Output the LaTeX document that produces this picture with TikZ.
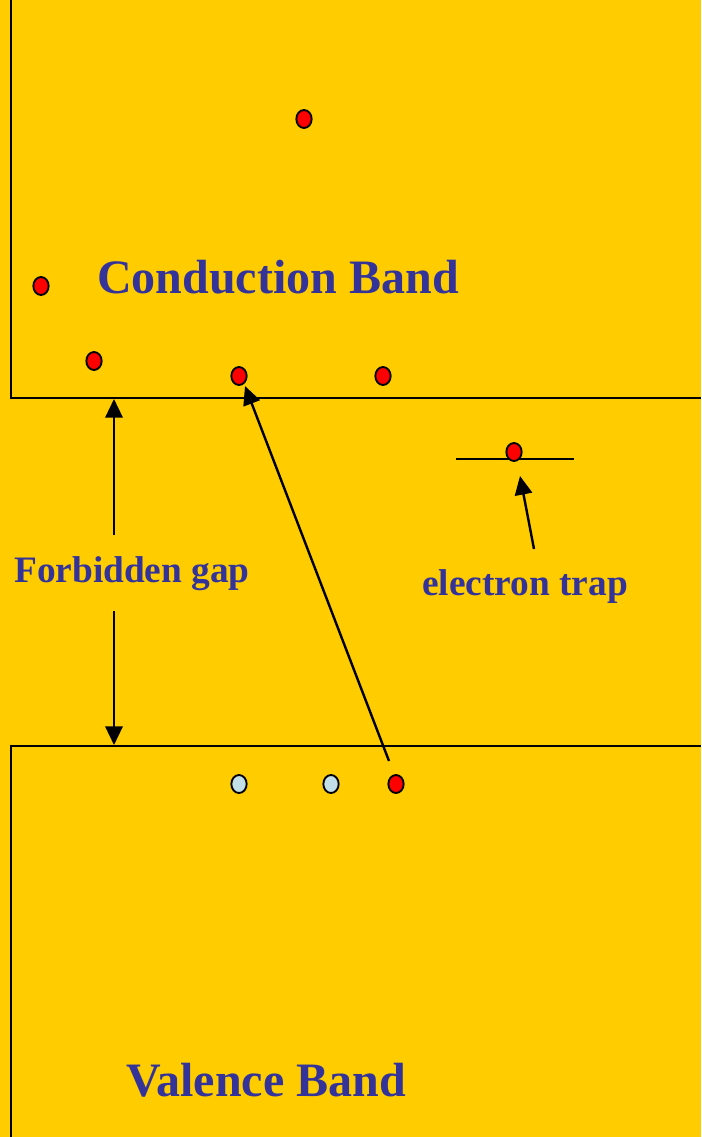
\documentclass[tikz,border=0pt]{standalone}
\usepackage{fontspec}
\setmainfont{Liberation Serif}
\usetikzlibrary{arrows.meta,shapes.geometric}
\definecolor{bgyellow}{HTML}{FFCC00}
\definecolor{txtblue}{HTML}{333399}
\definecolor{dotred}{HTML}{FF0000}
\definecolor{dotblue}{HTML}{C2DEE6}
\begin{document}
\begin{tikzpicture}[x=0.75pt,y=-0.75pt,
  band/.style={line width=1.8pt},
  dot/.style={ellipse,draw=black,line width=1.4pt,inner sep=0pt,minimum width=11.5pt,minimum height=13.5pt},
  edot/.style={dot,fill=dotred},
  hdot/.style={dot,fill=dotblue},
  arr/.style={line width=1.8pt,-{Triangle[length=14pt,width=13pt]}},
  lbig/.style={font=\bfseries\fontsize{36}{40}\selectfont,text=txtblue,anchor=base,inner sep=0pt},
  lsmall/.style={font=\bfseries\fontsize{28}{32}\selectfont,text=txtblue,anchor=base,inner sep=0pt}]
\fill[bgyellow] (0,0) rectangle (701,1137);
\useasboundingbox (0,0) rectangle (701,1137);
% bands
\coordinate (cbTL) at (11,0);
\coordinate (cbBL) at (11,398);
\coordinate (cbBR) at (701,398);
\coordinate (vbTL) at (11,746);
\coordinate (vbTR) at (701,746);
\coordinate (vbBL) at (11,1137);
\draw[band] (cbTL) -- (cbBL) -- (cbBR);
\draw[band] (vbTR) -- (vbTL) -- (vbBL);
% trap level
\coordinate (trapL) at (456,459);
\coordinate (trapR) at (574,459);
\draw[band] (trapL) -- (trapR);
% electrons
\node[edot] (e1) at (304,119) {};
\node[edot] (e2) at (41,286) {};
\node[edot] (e3) at (94,361) {};
\node[edot] (e4) at (239,376) {};
\node[edot] (e5) at (383,376) {};
\node[edot] (e6) at (514,452) {};
\node[edot] (e7) at (396,784) {};
\node[hdot] (h1) at (239,784) {};
\node[hdot] (h2) at (331,784) {};
% labels
\node[lbig] (cb) at (278,293) {Conduction Band};
\node[lbig] (vb) at (266,1096) {Valence Band};
\node[lsmall] (fg) at (132,582) {Forbidden gap};
\node[lsmall] (et) at (525,595) {electron trap};
% arrows
\coordinate (gapA) at (114,535);
\coordinate (gapAt) at (114,399);
\coordinate (gapB) at (114,611);
\coordinate (gapBt) at (114,745);
\draw[arr] (gapA) -- (gapAt);
\draw[arr] (gapB) -- (gapBt);
\coordinate (exS) at (389,761);
\coordinate (exT) at (245,386);
\draw[arr] (exS) -- (exT);
\coordinate (trS) at (534,549);
\coordinate (trT) at (520,476);
\draw[arr] (trS) -- (trT);
\end{tikzpicture}
\end{document}
